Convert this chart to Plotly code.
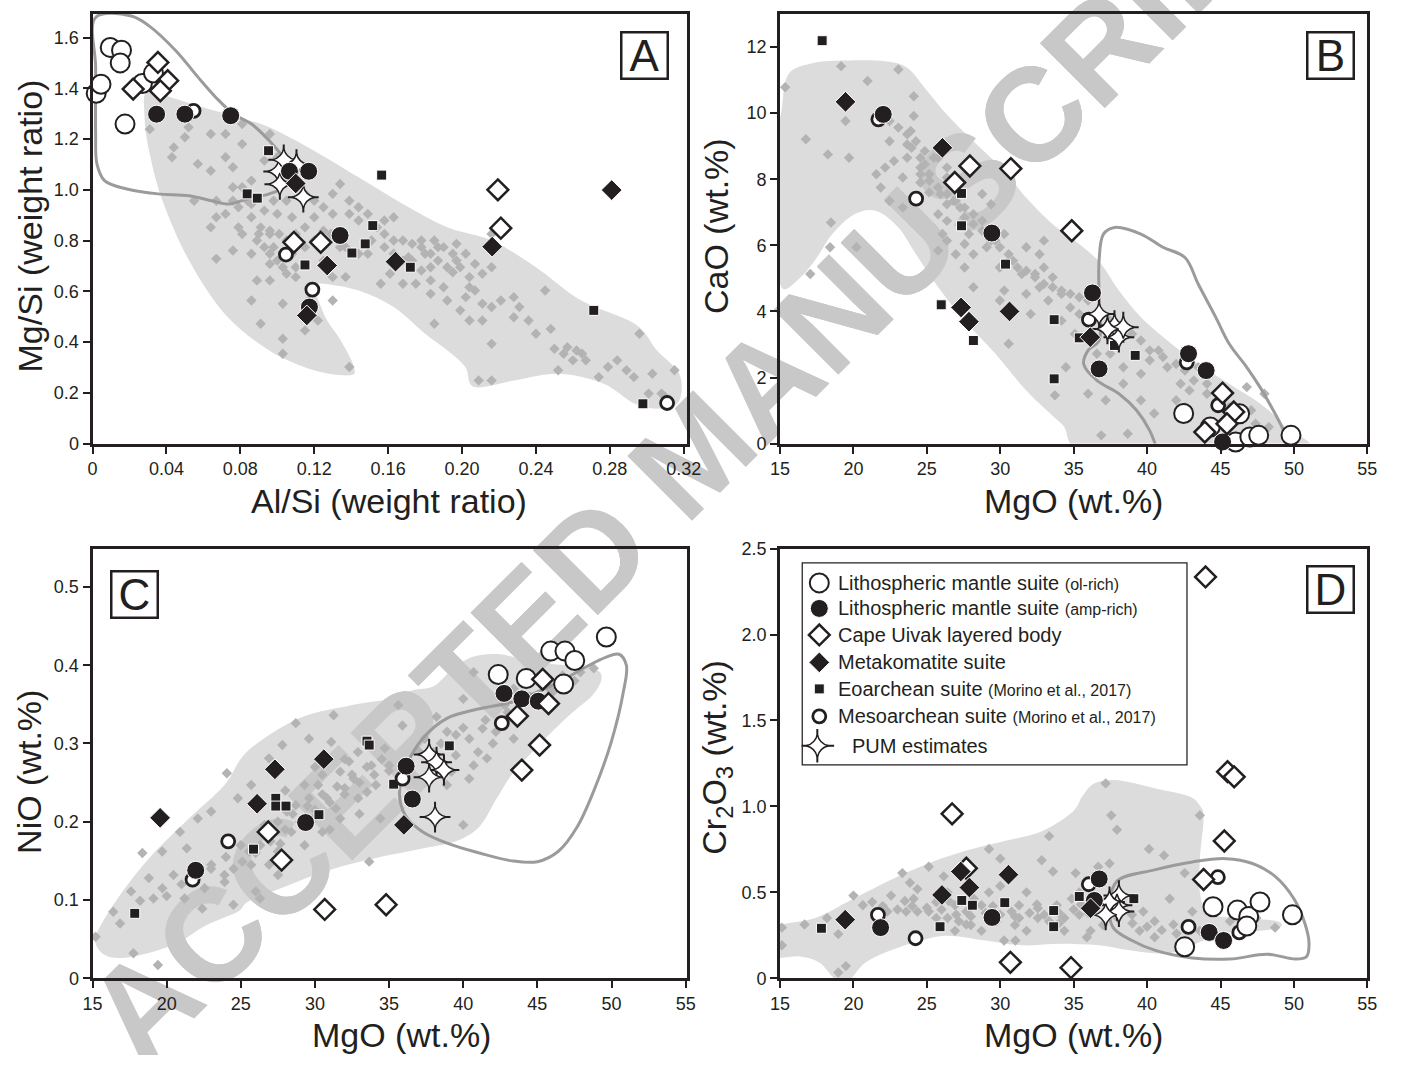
import plotly.graph_objects as go

# The page is shown with the browser's default 8px body margin, so the figure is
# sized so that figure + margins fill the 1417x1071 window exactly.
PAGE_W, PAGE_H = 1417, 1071
OFF = 8
W, H = PAGE_W - 2 * OFF, PAGE_H - 2 * OFF

INK = "#231f20"
FIELD = "#dcdcdc"
DOT = "#b3b3b3"
EDGE = "#9b9b9b"
WMARK = "#c8c8c8"
FONT = "Liberation Sans, Arial, Helvetica, sans-serif"

# ======================= DATA =======================
# ---- Panel A : Al/Si (x) vs Mg/Si (y) ----
A_ol_x = [0.002, 0.0046, 0.0096, 0.0157, 0.015, 0.0176, 0.027, 0.033]
A_ol_y = [1.38, 1.416, 1.561, 1.55, 1.50, 1.259, 1.419, 1.46]
A_amp_x = [0.0347, 0.050, 0.0748, 0.1066, 0.117, 0.134, 0.1174]
A_amp_y = [1.298, 1.298, 1.292, 1.073, 1.073, 0.82, 0.538]
A_cu_x = [0.0354, 0.0407, 0.022, 0.0367, 0.109, 0.1235, 0.2194, 0.221]
A_cu_y = [1.502, 1.43, 1.397, 1.39, 0.793, 0.793, 1.0, 0.849]
A_mk_x = [0.110, 0.127, 0.164, 0.2163, 0.281, 0.116]
A_mk_y = [1.025, 0.702, 0.717, 0.776, 0.999, 0.505]
A_eo_x = [0.0953, 0.0837, 0.0892, 0.1565, 0.1517, 0.1476, 0.1404, 0.115, 0.172, 0.2713, 0.2979]
A_eo_y = [1.154, 0.984, 0.967, 1.058, 0.859, 0.787, 0.751, 0.704, 0.695, 0.525, 0.157]
A_me_x = [0.0547, 0.1047, 0.119, 0.311]
A_me_y = [1.311, 0.745, 0.607, 0.16]
A_pum_x = [0.1008, 0.1035, 0.1104, 0.1141, 0.1014]
A_pum_y = [1.072, 1.118, 1.099, 0.971, 1.022]
A_bg = [(0.031,1.239),(0.044,1.167),(0.050,1.207),(0.057,1.102),(0.064,1.075),(0.072,1.128),(0.076,1.089),
        (0.081,1.180),(0.086,1.036),(0.093,1.115),(0.096,1.220),(0.072,1.220),(0.064,1.220),(0.055,0.957),
        (0.067,0.957),(0.076,1.010),(0.084,0.957),(0.086,0.892),(0.091,0.852),(0.096,0.826),(0.100,0.905),
        (0.105,0.957),(0.089,0.800),(0.096,0.748),(0.100,0.721),(0.105,0.669),(0.110,0.656),(0.096,0.643),
        (0.089,0.643),(0.086,0.564),(0.103,0.551),(0.091,0.472),(0.103,0.413),(0.115,0.446),(0.122,0.485),
        (0.067,0.728),(0.076,0.761),(0.081,0.826),(0.115,0.852),(0.120,0.892),(0.125,0.931),(0.130,0.984),
        (0.134,1.023),(0.139,0.957),(0.144,0.931),(0.149,0.905),(0.154,0.852),(0.158,0.826),(0.163,0.800),
        (0.168,0.800),(0.173,0.787),(0.178,0.774),(0.183,0.748),(0.187,0.721),(0.192,0.695),(0.197,0.721),
        (0.202,0.748),(0.207,0.708),(0.211,0.669),(0.216,0.695),(0.204,0.656),(0.190,0.616),(0.207,0.603),
        (0.211,0.551),(0.216,0.538),(0.228,0.577),(0.199,0.525),(0.192,0.564),(0.185,0.472),(0.204,0.485),
        (0.211,0.485),(0.216,0.393),(0.228,0.498),(0.245,0.603),(0.248,0.452),(0.250,0.374),(0.257,0.380),
        (0.262,0.367),(0.265,0.354),(0.260,0.328),(0.284,0.328),(0.289,0.289),(0.296,0.433),(0.303,0.275),
        (0.308,0.197),(0.315,0.289),(0.293,0.262),(0.274,0.262),(0.252,0.289),(0.216,0.249),(0.209,0.249),
        (0.161,0.669),(0.171,0.734),(0.178,0.800),(0.163,0.892),(0.158,0.879),(0.144,0.879),(0.139,0.905),
        (0.137,0.656),(0.130,0.656),(0.125,0.721),(0.134,0.826),(0.120,0.957),(0.110,1.023),(0.100,1.128),
        (0.081,1.259),(0.052,1.246),(0.043,1.128),(0.064,0.852),(0.079,0.852),(0.079,0.931),(0.108,0.892),
        (0.130,0.905),(0.134,0.774),(0.149,0.748),(0.178,0.682),(0.183,0.695),(0.168,0.630),(0.156,0.630),
        (0.216,0.826),(0.197,0.787),(0.187,0.774),(0.195,0.675),(0.183,0.590),(0.202,0.577),(0.139,0.302),
        (0.103,0.354),(0.117,0.564),(0.130,0.564),
        (0.086,0.944),(0.093,0.918),(0.098,0.957),(0.090,0.826),(0.096,0.839),(0.101,0.826),(0.105,0.800),
        (0.093,0.774),(0.086,0.748),(0.098,0.774),(0.108,0.748),(0.115,0.774),(0.120,0.800),(0.110,0.826),
        (0.096,0.708),(0.103,0.695),(0.110,0.695),(0.081,1.010),(0.076,0.957),(0.072,0.905),(0.067,0.892),
        (0.101,1.010),(0.105,1.036),(0.115,0.984),(0.125,0.839),(0.129,0.826),(0.137,0.774),(0.144,0.748),
        (0.151,0.800),(0.158,0.774),(0.163,0.748),(0.168,0.721),(0.173,0.721),(0.180,0.748),(0.185,0.800),
        (0.190,0.774),(0.195,0.748),(0.199,0.695),(0.183,0.643),(0.175,0.630),(0.204,0.616),(0.221,0.564),
        (0.231,0.538),(0.236,0.485),(0.240,0.433),(0.255,0.354),(0.267,0.328),(0.279,0.302),(0.301,0.197),
        (0.310,0.184)]
A_field = [(0.0294,1.390),(0.0427,1.364),(0.0596,1.325),(0.0789,1.285),(0.0957,1.246),(0.1199,1.154),
           (0.144,1.049),(0.168,0.944),(0.192,0.852),(0.216,0.80),(0.240,0.695),(0.2645,0.564),(0.2935,0.472),
           (0.3055,0.367),(0.3176,0.275),(0.3176,0.170),(0.308,0.138),(0.2935,0.157),(0.2766,0.236),
           (0.2525,0.275),(0.2284,0.249),(0.2067,0.223),(0.2018,0.302),(0.1922,0.367),(0.180,0.433),
           (0.163,0.538),(0.144,0.603),(0.1247,0.630),(0.1199,0.616),(0.1223,0.564),(0.127,0.485),
           (0.1343,0.407),(0.1415,0.302),(0.139,0.269),(0.1199,0.289),(0.0957,0.367),(0.0716,0.511),
           (0.0523,0.721),(0.0379,0.957),(0.0306,1.154),(0.0282,1.285)]
A_outline = [(0.0017,1.679),(0.021,1.685),(0.0306,1.646),(0.0451,1.548),(0.0572,1.443),(0.0668,1.364),
             (0.0764,1.298),(0.0861,1.259),(0.0957,1.193),(0.103,1.128),(0.1054,1.075),(0.103,1.010),
             (0.0957,0.984),(0.0837,0.964),(0.074,0.944),(0.0644,0.957),(0.0523,0.977),(0.0354,0.984),
             (0.0186,1.003),(0.0065,1.036),(0.0024,1.102),(0.0017,1.220),(0.0017,1.482),(0.0017,1.679)]

# ---- Panel B : MgO (x) vs CaO (y) ----
B_ol_x = [42.49, 44.3, 46.03, 47.0, 47.6, 49.8, 46.3]
B_ol_y = [0.91, 0.50, 0.05, 0.2, 0.25, 0.25, 0.9]
B_amp_x = [22.03, 29.43, 36.28, 36.73, 42.82, 44.02, 45.14]
B_amp_y = [9.96, 6.37, 4.56, 2.26, 2.72, 2.21, 0.05]
B_cu_x = [27.93, 26.9, 30.72, 34.87, 45.14, 45.9, 45.44, 43.93]
B_cu_y = [8.40, 7.9, 8.32, 6.44, 1.53, 0.96, 0.6, 0.35]
B_mk_x = [19.46, 26.06, 27.33, 27.87, 30.63, 36.13]
B_mk_y = [10.34, 8.95, 4.12, 3.69, 4.0, 3.22]
B_eo_x = [17.87, 27.36, 27.36, 30.36, 25.98, 28.17, 33.67, 33.67, 35.38, 37.78, 39.19]
B_eo_y = [12.19, 7.57, 6.59, 5.43, 4.20, 3.12, 3.75, 1.96, 3.2, 2.97, 2.67]
B_me_x = [21.7, 24.27, 36.04, 42.7, 44.84]
B_me_y = [9.81, 7.41, 3.75, 2.46, 1.16]
B_pum_x = [36.73, 37.78, 38.08, 38.38, 37.3]
B_pum_y = [3.92, 3.57, 3.22, 3.52, 3.47]
B_bg = [(15.35,10.78),(16.76,9.21),(18.26,8.75),(19.16,11.42),(19.70,8.65),(19.46,9.76),(20.96,10.97),
        (23.06,11.32),(24.11,10.51),(24.11,9.91),(23.90,9.46),(23.96,8.95),(23.66,8.65),(24.56,8.65),
        (24.86,8.45),(25.16,8.15),(24.56,7.90),(25.16,7.60),(25.92,7.55),(26.37,7.24),(25.77,6.94),
        (26.37,6.74),(26.97,7.34),(27.57,7.14),(28.17,6.94),(28.77,6.74),(27.87,6.34),(27.57,6.04),
        (26.37,6.14),(25.77,5.84),(26.97,5.73),(28.17,5.73),(29.07,5.94),(29.67,6.14),(30.27,6.34),
        (30.57,5.73),(29.97,5.33),(30.87,5.53),(31.47,5.13),(32.37,5.03),(32.97,5.33),(33.57,5.03),
        (32.67,4.73),(31.77,4.53),(30.27,4.63),(30.57,3.02),(33.72,1.46),(33.27,4.33),(34.17,4.53),
        (34.77,4.12),(35.38,3.92),(34.17,3.72),(35.08,3.32),(35.98,3.12),(36.58,2.72),(37.48,2.72),
        (38.38,2.31),(39.58,2.11),(40.18,2.52),(40.78,2.82),(41.38,2.31),(42.28,1.81),(42.88,1.61),
        (43.48,2.31),(44.08,1.81),(41.98,1.31),(39.58,1.31),(38.38,1.81),(37.18,1.31),(38.68,0.30),
        (36.88,0.25),(40.48,0.91),(42.58,1.11),(46.79,1.71),(47.99,1.51),(47.09,1.01),(48.29,0.50),
        (27.57,5.33),(23.66,9.05),(22.46,9.15),(26.37,8.05),(25.77,8.65),(23.36,8.05),(20.21,5.94),
        (18.47,6.69),(17.06,5.13),(18.41,5.94),(28.77,7.55),(29.37,7.24),(28.17,4.73),(29.97,4.33),
        (31.77,5.94),(32.67,5.73),(32.97,6.14),(26.07,6.34),(23.36,7.14),(22.46,7.34),(21.86,7.75),
        (21.56,8.15),(22.16,8.35),(22.76,8.55),(32.07,3.92),(35.98,1.51),(34.47,2.31),
        (24.56,8.35),(25.17,7.95),(25.77,7.75),(26.37,7.55),(26.82,7.34),(27.27,7.14),(27.57,6.84),
        (28.17,6.64),(28.77,6.44),(29.07,6.34),(29.37,6.14),(29.97,5.94),(30.57,5.53),(31.17,5.33),
        (31.77,5.23),(32.37,5.13),(32.97,4.83),(33.57,4.73),(34.17,4.63),(34.77,4.53),(35.38,4.43),
        (35.98,4.33),(24.56,8.15),(24.86,8.85),(24.26,9.15),(23.66,9.36),(23.06,9.56),(22.46,9.76),
        (25.47,8.65),(26.37,8.35),(36.58,3.92),(37.48,3.72),(38.38,3.52),(38.98,3.32),(39.58,3.12),
        (40.18,2.82),(41.08,2.62),(41.98,2.41),(42.58,2.21),(43.18,1.91),(44.08,1.51),(44.98,1.31),
        (45.59,1.11),(46.49,0.80),(47.39,0.60)]
B_field = [(15.1,10.06),(15.56,11.17),(17.36,11.52),(19.46,11.59),(22.16,11.57),(23.66,11.37),(24.86,10.76),
           (26.36,9.96),(28.17,9.15),(30.27,8.25),(31.77,7.44),(33.57,6.64),(35.38,6.04),(36.88,5.43),
           (38.08,4.63),(39.58,3.82),(41.38,3.12),(43.48,2.41),(45.59,1.81),(47.69,1.21),(49.19,0.60),
           (50.54,-0.3),(36.58,-0.3),(34.17,0.60),(31.77,1.61),(29.67,2.72),(27.57,3.72),(25.77,4.73),
           (24.26,5.73),(23.06,6.54),(21.56,7.04),(20.06,6.94),(18.56,6.34),(17.36,5.53),(16.16,4.93),
           (15.1,4.73),(14.7,6.0),(14.7,9.0)]
B_outline = [(40.77,-0.3),(40.17,0.40),(39.28,1.01),(38.08,1.51),(36.58,1.91),(35.68,2.41),(35.98,2.82),
             (36.73,3.12),(36.73,4.33),(36.73,5.53),(37.03,6.34),(37.78,6.54),(39.58,6.34),(41.08,5.94),
             (42.58,5.63),(43.48,4.83),(44.68,3.82),(45.59,3.02),(46.79,2.31),(47.69,1.71),(48.59,1.01),
             (49.19,0.50),(49.9,-0.3)]

# ---- Panel C : MgO (x) vs NiO (y) ----
C_ol_x = [42.36, 44.25, 45.9, 46.86, 47.52, 46.77, 49.65]
C_ol_y = [0.388, 0.383, 0.418, 0.418, 0.406, 0.376, 0.436]
C_amp_x = [21.96, 29.37, 36.15, 36.57, 42.75, 43.95, 45.06]
C_amp_y = [0.138, 0.199, 0.271, 0.229, 0.364, 0.357, 0.354]
C_cu_x = [26.85, 27.75, 30.66, 34.8, 43.65, 43.95, 45.15, 45.75, 45.36]
C_cu_y = [0.187, 0.151, 0.088, 0.094, 0.335, 0.266, 0.298, 0.351, 0.382]
C_mk_x = [19.56, 27.3, 26.1, 30.6, 36.0]
C_mk_y = [0.205, 0.267, 0.223, 0.280, 0.196]
C_eo_x = [17.85, 25.86, 27.36, 27.36, 28.05, 30.27, 33.51, 33.66, 35.31, 39.06]
C_eo_y = [0.083, 0.165, 0.230, 0.220, 0.220, 0.209, 0.303, 0.298, 0.248, 0.297]
C_me_x = [21.75, 24.15, 35.91, 42.6]
C_me_y = [0.126, 0.175, 0.255, 0.326]
C_pum_x = [37.7, 38.2, 38.7, 37.7, 38.1]
C_pum_y = [0.286, 0.276, 0.266, 0.257, 0.206]
C_bg = [(15.21,0.053),(16.86,0.070),(17.76,0.032),(18.36,0.160),(19.11,0.102),(18.21,0.099),(19.41,0.017),
        (20.46,0.132),(19.71,0.115),(21.21,0.102),(21.36,0.166),(22.56,0.115),(23.01,0.145),(23.91,0.123),
        (24.06,0.262),(24.51,0.140),(25.11,0.149),(25.56,0.162),(26.01,0.111),(26.31,0.170),(26.91,0.145),
        (27.66,0.172),(27.51,0.132),(28.41,0.187),(28.71,0.326),(29.31,0.196),(29.91,0.204),(29.61,0.230),
        (30.21,0.247),(30.81,0.230),(31.26,0.336),(31.41,0.217),(32.01,0.243),(32.61,0.255),(32.91,0.230),
        (33.51,0.238),(33.81,0.272),(34.11,0.247),(34.41,0.204),(33.66,0.149),(34.71,0.294),(35.01,0.272),
        (35.61,0.349),(37.41,0.306),(38.91,0.315),(39.51,0.311),(40.41,0.306),(40.0,0.196),(41.0,0.289),
        (41.3,0.319),(41.6,0.281),(42.2,0.315),(42.8,0.349),(43.4,0.306),(40.7,0.272),(38.6,0.272),
        (38.0,0.289),(38.9,0.247),(39.2,0.264),(40.4,0.255),(40.7,0.391),(42.2,0.387),(43.4,0.370),
        (45.8,0.370),(46.7,0.387),(47.9,0.391),(48.8,0.396),(40.0,0.357),(38.2,0.334),(35.9,0.323),
        (31.1,0.302),(29.6,0.306),(27.8,0.298),(26.9,0.281),(25.7,0.247),(24.8,0.230),(23.0,0.213),
        (22.1,0.204),(20.9,0.187),(19.7,0.162),(18.8,0.128),(17.6,0.111),(16.4,0.085),(26.6,0.196),
        (28.1,0.213),(28.7,0.221),(29.3,0.247),(30.5,0.260),(31.7,0.264),(32.3,0.277),(32.9,0.289),
        (31.7,0.204),(30.5,0.187),(29.3,0.170),(27.5,0.162),(25.7,0.145),(23.9,0.132),(22.4,0.089),
        (24.5,0.094),(26.3,0.102),
        (26.0,0.160),(27.0,0.175),(28.0,0.190),(29.0,0.200),(30.0,0.215),(31.0,0.225),(32.0,0.235),
        (33.0,0.250),(34.0,0.260),(35.0,0.265),(27.5,0.200),(28.5,0.210),(29.5,0.220),(30.5,0.235),
        (31.5,0.245),(32.5,0.260),(33.5,0.270),(34.5,0.280),(25.0,0.170),(24.0,0.155),(23.0,0.140),
        (22.0,0.130),(21.0,0.120),(20.0,0.105),(26.5,0.190),(28.0,0.240),(30.0,0.270),(32.0,0.280),
        (31.0,0.190),(33.0,0.210),(38.5,0.300),(40.0,0.320),(41.5,0.330),(43.0,0.340),(44.5,0.360),
        (46.0,0.365),(47.5,0.380),(37.0,0.290),(39.5,0.285),(42.0,0.300)]
C_field = [(15.2,0.045),(15.4,0.062),(16.7,0.102),(18.8,0.153),(21.5,0.204),(23.9,0.247),(25.5,0.291),
           (28.9,0.332),(32.2,0.348),(35.1,0.357),(36.6,0.368),(38.0,0.373),(39.3,0.395),(40.7,0.411),
           (42.5,0.414),(44.5,0.405),(47.7,0.398),(49.1,0.393),(49.3,0.380),(48.7,0.361),(47.7,0.345),
           (46.7,0.328),(44.9,0.294),(43.3,0.261),(42.2,0.228),(41.1,0.194),(39.5,0.175),(37.0,0.165),
           (34.4,0.155),(32.2,0.145),(30.0,0.132),(27.7,0.115),(25.5,0.098),(24.8,0.085),(22.7,0.068),
           (20.9,0.047),(19.1,0.034),(17.0,0.026),(15.8,0.030)]
C_outline = [(43.3,0.353),(41.0,0.344),(38.9,0.332),(37.3,0.307),(36.2,0.273),(35.7,0.236),(36.1,0.208),
             (37.2,0.188),(39.0,0.172),(41.1,0.160),(43.3,0.150),(45.0,0.149),(46.4,0.162),(47.7,0.194),
             (48.9,0.244),(50.0,0.303),(50.8,0.366),(51.0,0.400),(50.5,0.414),(49.6,0.410),(48.3,0.398),
             (46.8,0.382),(45.0,0.366),(43.3,0.353)]

# ---- Panel D : MgO (x) vs Cr2O3 (y) ----
D_ol_x = [42.56, 44.49, 46.15, 46.92, 46.79, 47.69, 49.9]
D_ol_y = [0.183, 0.416, 0.397, 0.36, 0.304, 0.444, 0.369]
D_amp_x = [21.85, 29.44, 36.74, 36.41, 44.23, 45.21]
D_amp_y = [0.295, 0.354, 0.578, 0.453, 0.267, 0.220]
D_cu_x = [43.98, 45.48, 45.93, 26.72, 45.26, 43.85, 27.69, 30.69, 34.82]
D_cu_y = [2.335, 1.202, 1.172, 0.957, 0.799, 0.575, 0.640, 0.093, 0.062]
D_mk_x = [19.44, 26.03, 27.31, 27.9, 30.56, 36.15]
D_mk_y = [0.341, 0.485, 0.621, 0.528, 0.603, 0.407]
D_eo_x = [17.82, 25.9, 27.38, 28.1, 30.31, 33.64, 33.64, 35.38, 39.1]
D_eo_y = [0.291, 0.30, 0.453, 0.425, 0.44, 0.394, 0.30, 0.476, 0.463]
D_me_x = [21.67, 24.23, 36.03, 42.82, 44.82, 46.28]
D_me_y = [0.369, 0.233, 0.547, 0.299, 0.588, 0.267]
D_pum_x = [38.08, 37.95, 37.44, 38.08, 37.18]
D_pum_y = [0.481, 0.425, 0.444, 0.388, 0.369]
D_bg = [(15.13,0.295),(15.13,0.192),(16.67,0.313),(18.2,0.351),(18.97,0.257),(19.49,0.071),(18.97,0.034),
        (20,0.481),(20.64,0.425),(21.28,0.444),(22.56,0.481),(23.33,0.612),(23.85,0.556),(24.36,0.519),
        (24.1,0.463),(23.59,0.388),(25.13,0.649),(25.64,0.444),(26.41,0.500),(26.41,0.351),(26.92,0.425),
        (27.18,0.332),(27.69,0.388),(28.2,0.463),(28.72,0.425),(29.23,0.752),(29.23,0.500),(30,0.696),
        (30.26,0.444),(30.77,0.388),(31.28,0.351),(31.03,0.220),(31.79,0.500),(32.56,0.351),(32.82,0.687),
        (33.33,0.827),(33.59,0.621),(33.85,0.425),(34.36,0.351),(34.87,0.463),(35.13,0.612),(35.38,0.369),
        (35.9,0.239),(36.15,0.276),(36.67,0.649),(37.18,1.134),(37.56,0.948),(37.95,0.864),(37.44,0.668),
        (38.08,0.425),(38.97,0.369),(39.49,0.276),(40.13,0.752),(40.51,0.332),(41.15,0.715),(41.54,0.463),
        (41.79,0.313),(42.56,0.612),(43.59,0.948),(43.08,0.388),(43.59,0.276),(45.64,0.332),(47.44,0.351),
        (48.72,0.295),(40.51,0.239),(39.74,0.388),(25.64,0.351),(27.69,0.313),(29.74,0.332),(31.28,0.425),
        (32.56,0.407),(33.33,0.332),(28.72,0.276),(26.92,0.276),(25.13,0.388),(24.36,0.388),(22.31,0.388),
        (21.54,0.351),(31.79,0.276),(34.36,0.276),(35.38,0.500),(30,0.537),(27.69,0.537),(26.15,0.593),
        (30.26,0.220),
        (22.0,0.420),(23.0,0.400),(24.0,0.420),(25.0,0.410),(26.0,0.400),(27.0,0.370),(28.0,0.360),
        (29.0,0.380),(30.0,0.370),(31.0,0.360),(32.0,0.380),(33.0,0.370),(34.0,0.380),(35.0,0.400),
        (36.0,0.380),(37.0,0.360),(38.0,0.350),(39.0,0.320),(40.0,0.300),(41.0,0.280),(42.0,0.260),
        (23.5,0.450),(26.5,0.450),(29.5,0.420),(32.5,0.430),(35.5,0.430),(28.0,0.310),(31.0,0.310),
        (34.0,0.320),(37.0,0.310)]
D_field = [(14.5,0.29),(17.4,0.351),(20.0,0.463),(22.6,0.575),(25.1,0.668),(27.7,0.743),(30.3,0.799),
           (32.8,0.854),(34.9,0.966),(35.6,1.06),(36.4,1.134),(37.9,1.153),(40.5,1.106),(42.8,1.06),
           (43.6,1.004),(43.85,0.929),(43.6,0.70),(43.6,0.50),(44.1,0.388),(45.6,0.351),(48.2,0.341),
           (49.1,0.323),(49.0,0.295),(47.7,0.276),(45.6,0.267),(43.85,0.22),(42.05,0.155),(40.5,0.146),
           (38.7,0.164),(36.7,0.192),(34.1,0.201),(31.5,0.192),(29.0,0.22),(26.4,0.248),(24.6,0.22),
           (22.6,0.164),(20.8,0.09),(19.6,-0.02),(18.7,0.0),(17.7,0.09),(16.4,0.127),(14.5,0.13)]
D_outline = [(37.95,0.565),(37.44,0.425),(37.69,0.295),(38.97,0.220),(40.51,0.164),(43.08,0.118),
             (45.64,0.112),(48.2,0.140),(50.1,0.112),(50.85,0.125),(51.03,0.200),(50.77,0.313),(50.0,0.463),
             (48.72,0.593),(47.18,0.668),(45.38,0.696),(43.08,0.677),(40.51,0.631),(37.95,0.565)]

# ---- tick labels ----
ALSI_TICKS = [0, 0.04, 0.08, 0.12, 0.16, 0.20, 0.24, 0.28, 0.32]
ALSI_TEXT = ["0", "0.04", "0.08", "0.12", "0.16", "0.20", "0.24", "0.28", "0.32"]
MGSI_TICKS = [0, 0.2, 0.4, 0.6, 0.8, 1.0, 1.2, 1.4, 1.6]
MGSI_TEXT = ["0", "0.2", "0.4", "0.6", "0.8", "1.0", "1.2", "1.4", "1.6"]
MGO_TICKS = [15, 20, 25, 30, 35, 40, 45, 50, 55]
MGO_TEXT = ["15", "20", "25", "30", "35", "40", "45", "50", "55"]
CAO_TICKS = [0, 2, 4, 6, 8, 10, 12]
CAO_TEXT = ["0", "2", "4", "6", "8", "10", "12"]
NIO_TICKS = [0, 0.1, 0.2, 0.3, 0.4, 0.5]
NIO_TEXT = ["0", "0.1", "0.2", "0.3", "0.4", "0.5"]
CR_TICKS = [0, 0.5, 1.0, 1.5, 2.0, 2.5]
CR_TEXT = ["0", "0.5", "1.0", "1.5", "2.0", "2.5"]

LEGEND_TEXT = [
    "Lithospheric mantle suite <span style='font-size:16px'>(ol-rich)</span>",
    "Lithospheric mantle suite <span style='font-size:16px'>(amp-rich)</span>",
    "Cape Uivak layered body",
    "Metakomatite suite",
    "Eoarchean suite <span style='font-size:16px'>(Morino et al., 2017)</span>",
    "Mesoarchean suite <span style='font-size:16px'>(Morino et al., 2017)</span>",
    "PUM estimates",
]
WATERMARK = "ACCEPTED MANUSCRIPT"

# ======================= LAYOUT (window pixels) =======================
PANELS = [
    dict(tag="A", xa="x", ya="y", box=(92, 697, 12, 450), xr=[0, 0.3216], yr=[0, 1.693],
         xt=(ALSI_TICKS, ALSI_TEXT), yt=(MGSI_TICKS, MGSI_TEXT),
         xtitle="Al/Si (weight ratio)", ytitle="Mg/Si (weight ratio)",
         xtp=(394, 508), ytp=(28, 228), tagp=(654, 54),
         ser=dict(eo=(A_eo_x, A_eo_y), me=(A_me_x, A_me_y), pum=(A_pum_x, A_pum_y), ol=(A_ol_x, A_ol_y),
                  amp=(A_amp_x, A_amp_y), cu=(A_cu_x, A_cu_y), mk=(A_mk_x, A_mk_y)),
         bg=A_bg, field=A_field, outline=A_outline),
    dict(tag="B", xa="x2", ya="y2", box=(792, 1390, 12, 450), xr=[15, 55], yr=[0, 13.0],
         xt=(MGO_TICKS, MGO_TEXT), yt=(CAO_TICKS, CAO_TEXT),
         xtitle="MgO (wt.%)", ytitle="CaO (wt.%)",
         xtp=(1091, 508), ytp=(727, 228), tagp=(1352, 54),
         ser=dict(eo=(B_eo_x, B_eo_y), me=(B_me_x, B_me_y), pum=(B_pum_x, B_pum_y), ol=(B_ol_x, B_ol_y),
                  amp=(B_amp_x, B_amp_y), cu=(B_cu_x, B_cu_y), mk=(B_mk_x, B_mk_y)),
         bg=B_bg, field=B_field, outline=B_outline),
    dict(tag="C", xa="x3", ya="y3", box=(92, 697, 557, 995), xr=[15, 55.07], yr=[0, 0.549],
         xt=(MGO_TICKS, MGO_TEXT), yt=(NIO_TICKS, NIO_TEXT),
         xtitle="MgO (wt.%)", ytitle="NiO (wt.%)",
         xtp=(407, 1053), ytp=(28, 785), tagp=(135, 604),
         ser=dict(eo=(C_eo_x, C_eo_y), me=(C_me_x, C_me_y), pum=(C_pum_x, C_pum_y), ol=(C_ol_x, C_ol_y),
                  amp=(C_amp_x, C_amp_y), cu=(C_cu_x, C_cu_y), mk=(C_mk_x, C_mk_y)),
         bg=C_bg, field=C_field, outline=C_outline),
    dict(tag="D", xa="x4", ya="y4", box=(792, 1390, 557, 995), xr=[15, 55], yr=[0, 2.5],
         xt=(MGO_TICKS, MGO_TEXT), yt=(CR_TICKS, CR_TEXT),
         xtitle="MgO (wt.%)", ytitle="Cr<sub>2</sub>O<sub>3</sub> (wt.%)",
         xtp=(1091, 1053), ytp=(727, 770), tagp=(1352, 599),
         ser=dict(eo=(D_eo_x, D_eo_y), me=(D_me_x, D_me_y), pum=(D_pum_x, D_pum_y), ol=(D_ol_x, D_ol_y),
                  amp=(D_amp_x, D_amp_y), cu=(D_cu_x, D_cu_y), mk=(D_mk_x, D_mk_y)),
         bg=D_bg, field=D_field, outline=D_outline),
]
LEG_BOX = (814, 1207, 571, 778)
LEG_ROWS = [592, 618, 645, 673, 700, 728, 758]
WM_CENTER = (696, 450)
WM_SIZE = 133


def px(x):
    """window x-pixel -> paper fraction"""
    return (x - OFF) / W


def py(y):
    """window y-pixel -> paper fraction"""
    return 1 - (y - OFF) / H


STYLE = {
    "eo": dict(symbol="square", size=10, color=INK, line=dict(color="white", width=1)),
    "me": dict(symbol="circle", size=13, color="white", line=dict(color=INK, width=2.8)),
    "ol": dict(symbol="circle", size=19, color="white", line=dict(color=INK, width=2)),
    "amp": dict(symbol="circle", size=18, color=INK, line=dict(color="white", width=1)),
    "cu": dict(symbol="diamond", size=16, color="white", line=dict(color=INK, width=2.5)),
    "mk": dict(symbol="diamond", size=16, color=INK, line=dict(color="white", width=1)),
}
PUM_ARMS = dict(symbol="cross-thin", size=22, color=INK, line=dict(color=INK, width=2))
PUM_STAR = dict(symbol="star-diamond", size=16, color="white", line=dict(color=INK, width=1.5))
ORDER = ["eo", "me", "pum", "ol", "amp", "cu", "mk"]


def smooth_closed(pts):
    n = len(pts)
    d = "M%.5f,%.5f" % pts[0]
    for i in range(n):
        p0, p1, p2, p3 = pts[i - 1], pts[i], pts[(i + 1) % n], pts[(i + 2) % n]
        c1 = (p1[0] + (p2[0] - p0[0]) / 6, p1[1] + (p2[1] - p0[1]) / 6)
        c2 = (p2[0] - (p3[0] - p1[0]) / 6, p2[1] - (p3[1] - p1[1]) / 6)
        d += " C%.5f,%.5f %.5f,%.5f %.5f,%.5f" % (c1 + c2 + p2)
    return d + " Z"


def wm_label():
    return dict(text=WATERMARK, textangle=-45, textposition="middle center",
                font=dict(family=FONT, size=WM_SIZE, color=WMARK, weight="bold"))


fig = go.Figure()
shapes = []
annotations = []
layout_axes = {}

# paper-level watermark (visible outside the plot areas)
shapes.append(dict(type="rect", xref="paper", yref="paper", layer="below",
                   x0=px(WM_CENTER[0]) - 0.001, x1=px(WM_CENTER[0]) + 0.001,
                   y0=py(WM_CENTER[1]) - 0.001, y1=py(WM_CENTER[1]) + 0.001,
                   line=dict(width=0), fillcolor="rgba(0,0,0,0)", label=wm_label()))

for p in PANELS:
    l, r, t, b = p["box"]
    xr, yr = p["xr"], p["yr"]
    xa, ya = p["xa"], p["ya"]
    xkey = "xaxis" + xa[1:]
    ykey = "yaxis" + ya[1:]
    common = dict(showline=True, linecolor=INK, linewidth=3, mirror=True, ticks="outside", ticklen=7,
                  tickwidth=2, tickcolor=INK, showgrid=False, zeroline=False, fixedrange=True,
                  tickfont=dict(family=FONT, size=18, color=INK), tickmode="array")
    layout_axes[xkey] = dict(common, domain=[px(l), px(r)], range=xr, anchor=ya,
                             tickvals=p["xt"][0], ticktext=p["xt"][1])
    layout_axes[ykey] = dict(common, domain=[py(b), py(t)], range=yr, anchor=xa,
                             tickvals=p["yt"][0], ticktext=p["yt"][1])

    # shaded field (below traces)
    shapes.append(dict(type="path", xref=xa, yref=ya, layer="below", path=smooth_closed(p["field"]),
                       fillcolor=FIELD, line=dict(width=0)))
    # watermark redrawn on top of the field, under the markers
    cx = xr[0] + (WM_CENTER[0] - l) / (r - l) * (xr[1] - xr[0])
    cy = yr[0] + (b - WM_CENTER[1]) / (b - t) * (yr[1] - yr[0])
    dx = (xr[1] - xr[0]) / (r - l)
    dy = (yr[1] - yr[0]) / (b - t)
    shapes.append(dict(type="rect", xref=xa, yref=ya, layer="below", x0=cx - dx, x1=cx + dx,
                       y0=cy - dy, y1=cy + dy, line=dict(width=0), fillcolor="rgba(0,0,0,0)",
                       label=wm_label()))

    # background compilation
    fig.add_trace(go.Scatter(x=[q[0] for q in p["bg"]], y=[q[1] for q in p["bg"]], mode="markers",
                             xaxis=xa, yaxis=ya, hoverinfo="skip", cliponaxis=False,
                             marker=dict(symbol="diamond", size=8, color=DOT, line=dict(width=0))))
    # outline
    fig.add_trace(go.Scatter(x=[q[0] for q in p["outline"]], y=[q[1] for q in p["outline"]], mode="lines",
                             xaxis=xa, yaxis=ya, hoverinfo="skip",
                             line=dict(color=EDGE, width=3, shape="spline", smoothing=1.0)))
    for key in ORDER:
        xs, ys = p["ser"][key]
        if key == "pum":
            fig.add_trace(go.Scatter(x=xs, y=ys, mode="markers", xaxis=xa, yaxis=ya, cliponaxis=False,
                                     hoverinfo="skip", marker=PUM_ARMS))
            fig.add_trace(go.Scatter(x=xs, y=ys, mode="markers", xaxis=xa, yaxis=ya, cliponaxis=False,
                                     hoverinfo="skip", marker=PUM_STAR))
        else:
            fig.add_trace(go.Scatter(x=xs, y=ys, mode="markers", xaxis=xa, yaxis=ya, cliponaxis=False,
                                     hoverinfo="skip", marker=STYLE[key]))

    # axis titles
    annotations.append(dict(text=p["xtitle"], x=px(p["xtp"][0]), y=py(p["xtp"][1]), xref="paper",
                            yref="paper", showarrow=False, xanchor="center", yanchor="middle",
                            font=dict(family=FONT, size=34, color=INK)))
    annotations.append(dict(text=p["ytitle"], x=px(p["ytp"][0]), y=py(p["ytp"][1]), xref="paper",
                            yref="paper", showarrow=False, xanchor="center", yanchor="middle",
                            textangle=-90, font=dict(family=FONT, size=34, color=INK)))
    # panel tag
    annotations.append(dict(text=p["tag"], x=px(p["tagp"][0]), y=py(p["tagp"][1]), xref="paper",
                            yref="paper", showarrow=False, xanchor="center", yanchor="middle",
                            font=dict(family=FONT, size=44, color=INK), bordercolor=INK, borderwidth=2.5,
                            borderpad=1, bgcolor="white", width=42, height=42))

# ---------------- legend (own hidden axes over panel D) ----------------
ll, lr, lt, lb = LEG_BOX
layout_axes["xaxis5"] = dict(domain=[px(ll), px(lr)], range=[0, 1], visible=False, anchor="y5", fixedrange=True)
layout_axes["yaxis5"] = dict(domain=[py(lb), py(lt)], range=[0, 1], visible=False, anchor="x5",
                             fixedrange=True)
shapes.append(dict(type="rect", xref="x5", yref="y5", layer="below", x0=0, x1=1, y0=0, y1=1,
                   fillcolor="white", line=dict(color=INK, width=2.5)))
row_y = [(lb - yy) / (lb - lt) for yy in LEG_ROWS]
mx = (832 - ll) / (lr - ll)
legend_keys = ["ol", "amp", "cu", "mk", "eo", "me"]
for i, key in enumerate(legend_keys):
    fig.add_trace(go.Scatter(x=[mx], y=[row_y[i]], mode="markers", xaxis="x5", yaxis="y5",
                             hoverinfo="skip", marker=STYLE[key]))
sx = (830 - ll) / (lr - ll)
fig.add_trace(go.Scatter(x=[sx], y=[row_y[6]], mode="markers", xaxis="x5", yaxis="y5", hoverinfo="skip",
                         marker=dict(PUM_ARMS, size=24)))
fig.add_trace(go.Scatter(x=[sx], y=[row_y[6]], mode="markers", xaxis="x5", yaxis="y5", hoverinfo="skip",
                         marker=PUM_STAR))
for i, txt in enumerate(LEGEND_TEXT):
    tx = (849 - ll) / (lr - ll) if i < 6 else (863 - ll) / (lr - ll)
    annotations.append(dict(text=txt, x=tx, y=row_y[i], xref="x5", yref="y5", showarrow=False,
                            xanchor="left", yanchor="middle", font=dict(family=FONT, size=20, color=INK)))

fig.update_layout(width=W, height=H, margin=dict(l=0, r=0, t=0, b=0), paper_bgcolor="white",
                  plot_bgcolor="white", showlegend=False, font=dict(family=FONT, color=INK),
                  shapes=shapes, annotations=annotations, **layout_axes)

fig.write_html("out.html", include_plotlyjs=True, config={"displayModeBar": False, "staticPlot": True})
